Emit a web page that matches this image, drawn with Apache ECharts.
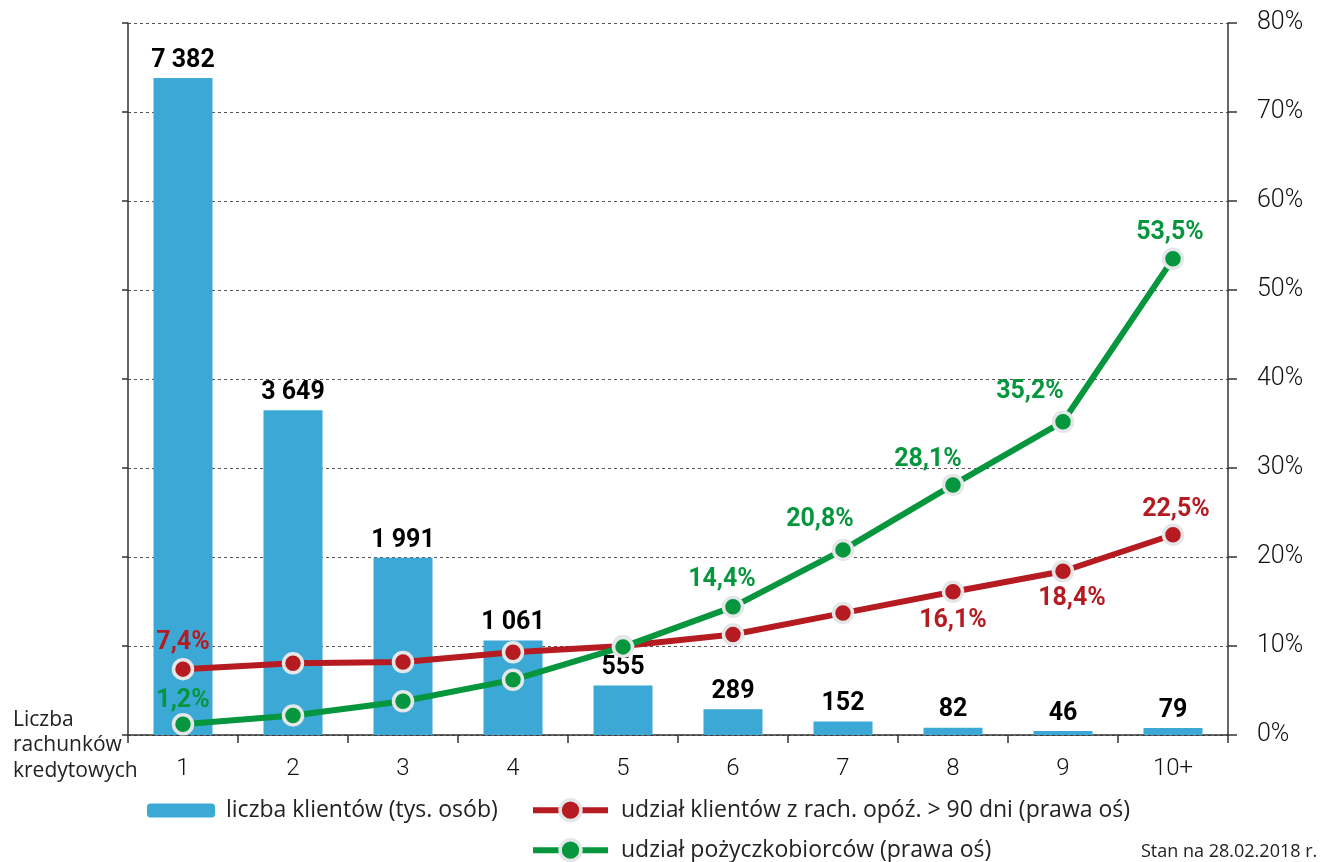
<!DOCTYPE html>
<html>
<head>
<meta charset="utf-8">
<script src="https://cdn.jsdelivr.net/npm/echarts@6/dist/echarts.min.js"></script>
<style>
html,body{margin:0;padding:0;background:#fff;}
#c{width:1322px;height:862px;}
</style>
</head>
<body>
<div id="c"></div>
<script>
const categories = ['1','2','3','4','5','6','7','8','9','10+'];
const clients = [7382, 3649, 1991, 1061, 555, 289, 152, 82, 46, 79];
const overdueShare = [7.4, 8.05, 8.2, 9.3, 10.0, 11.3, 13.7, 16.1, 18.4, 22.5];
const borrowerShare = [1.2, 2.2, 3.8, 6.2, 9.9, 14.4, 20.8, 28.1, 35.2, 53.5];
const rightTicks = [0, 10, 20, 30, 40, 50, 60, 70, 80];

const nameBars = 'liczba klientów (tys. osób)';
const nameRed = 'udział klientów z rach. opóź. > 90 dni (prawa oś)';
const nameGreen = 'udział pożyczkobiorców (prawa oś)';

const RED = '#b51b20';
const GREEN = '#06963d';
const BLUE = '#3ba8d5';
const RING = '#e4e7e8';

// label placement (offsets from point centre) for the labelled points
const redLabelOffsets = {0:[0,-26], 7:[0,29], 8:[9,28], 9:[3,-25]};
const greenLabelOffsets = {0:[0,-24], 5:[-11,-27], 6:[-23,-30], 7:[-25,-25], 8:[-33,-30], 9:[-3,-26]};

function pct(v){ return String(v).replace('.', ',') + '%'; }
function thousands(v){ return String(v).replace(/\B(?=(\d{3})+(?!\d))/g, ' '); }

function lineData(values, offsets, color){
  return values.map((v, i) => {
    const o = offsets[i];
    if (!o) return {value: v, label: {show: false}};
    return {value: v, label: {show: true, position: 'inside', offset: o, color: color,
      fontFamily: 'Roboto', fontWeight: 'bold', fontSize: 25, formatter: p => pct(p.value)}};
  });
}

const legendText = {fontFamily: 'Open Sans', fontSize: 23, color: '#222'};

const chart = echarts.init(document.getElementById('c'));
chart.setOption({
  animation: false,
  backgroundColor: '#fff',
  grid: {left: 128, right: 94, top: 23, bottom: 127, containLabel: false},
  title: [
    {text: 'Liczba\nrachunków\nkredytowych', left: 8, top: 702,
     textStyle: {fontFamily: 'Open Sans', fontWeight: 'normal', fontSize: 21, lineHeight: 25.5, color: '#222'}},
    {text: 'Stan na 28.02.2018 r.', left: 1136, top: 838,
     textStyle: {fontFamily: 'Open Sans', fontWeight: 'normal', fontSize: 18, color: '#222'}}
  ],
  legend: [
    {data: [nameBars], left: 142, top: 794, itemWidth: 68, itemHeight: 14, itemGap: 10,
     textStyle: Object.assign({padding: [0,0,0,6]}, legendText)},
    {data: [nameRed], left: 525, top: 793, itemWidth: 75, itemHeight: 26,
     lineStyle: {width: 6},
     itemStyle: {borderColor: RING, borderWidth: 3.5},
     textStyle: Object.assign({padding: [0,0,0,8]}, legendText)},
    {data: [nameGreen], left: 525, top: 833, itemWidth: 75, itemHeight: 26,
     lineStyle: {width: 6},
     itemStyle: {borderColor: RING, borderWidth: 3.5},
     textStyle: Object.assign({padding: [0,0,0,8]}, legendText)}
  ],
  xAxis: {
    type: 'category', data: categories,
    axisLine: {show: true, lineStyle: {color: '#333', width: 1.5}},
    axisTick: {show: true, length: 8, lineStyle: {color: '#333', width: 1.5}},
    axisLabel: {margin: 22, fontFamily: 'Roboto', fontWeight: 300, fontSize: 24, color: '#111'}
  },
  yAxis: [
    {type: 'value', min: 0, max: 8000, interval: 1000, position: 'left',
     axisLine: {show: true, lineStyle: {color: '#333', width: 1.5}},
     axisTick: {show: true, length: 6, inside: false, lineStyle: {color: '#333', width: 1.5}},
     axisLabel: {show: false},
     splitLine: {show: true, lineStyle: {color: '#555', type: [3, 3], width: 1}}},
    {type: 'value', min: rightTicks[0], max: rightTicks[rightTicks.length-1], interval: 10, position: 'right',
     axisLine: {show: true, lineStyle: {color: '#333', width: 1.5}},
     axisTick: {show: true, length: 9, lineStyle: {color: '#333', width: 1.5}},
     axisLabel: {margin: 29, fontFamily: 'Roboto', fontWeight: 300, fontSize: 25, color: '#111', formatter: '{value}%'},
     splitLine: {show: false}}
  ],
  series: [
    {name: nameBars, type: 'bar', data: clients, yAxisIndex: 0, barWidth: 59,
     itemStyle: {color: BLUE},
     label: {show: true, position: 'top', distance: 5, color: '#000', fontFamily: 'Roboto', fontWeight: 'bold', fontSize: 25,
       formatter: p => thousands(p.value)}},
    {name: nameRed, type: 'line', yAxisIndex: 1, data: lineData(overdueShare, redLabelOffsets, RED),
     symbol: 'circle', symbolSize: 19,
     lineStyle: {color: RED, width: 6},
     itemStyle: {color: RED, borderColor: RING, borderWidth: 3.5}, z: 3},
    {name: nameGreen, type: 'line', yAxisIndex: 1, data: lineData(borrowerShare, greenLabelOffsets, GREEN),
     symbol: 'circle', symbolSize: 19,
     lineStyle: {color: GREEN, width: 6},
     itemStyle: {color: GREEN, borderColor: RING, borderWidth: 3.5}, z: 4}
  ]
});
</script>
</body>
</html>
